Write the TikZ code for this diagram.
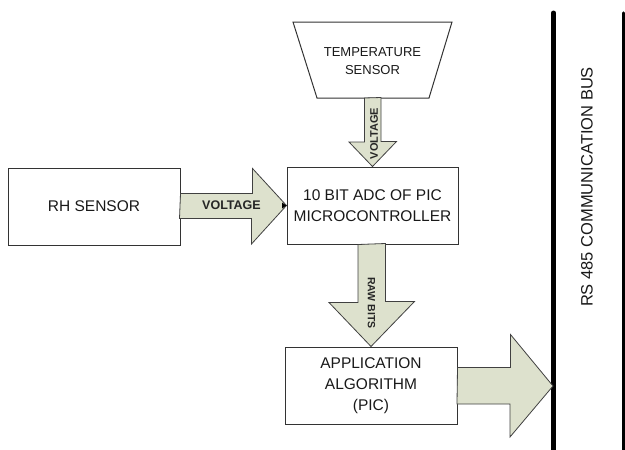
\documentclass[tikz,border=0pt]{standalone}
\usepackage{fontspec}
\setmainfont{Liberation Sans}
\begin{document}
\begin{tikzpicture}[x=1pt,y=-1pt,
  box/.style={draw=black!80, line width=1pt, fill=white, inner sep=0pt, align=center,
    font=\fontsize{15.5}{21}\selectfont, text=black!90},
  fatarrow/.style={draw=black!75, line width=0.8pt, fill=arrowfill, line join=miter},
  lbl/.style={font=\bfseries\fontsize{11}{13}\selectfont, text=black!85, inner sep=0pt}]
\definecolor{arrowfill}{RGB}{221,225,205}
\useasboundingbox (0,0) rectangle (625,450);

% boxes
\node[box, minimum width=172pt, minimum height=77pt] (rh) at (94,206.5) {RH SENSOR};
\node[box, minimum width=171pt, minimum height=77pt] (adc) at (372.5,205.5) {10 BIT ADC OF PIC\\MICROCONTROLLER};
\node[box, minimum width=172pt, minimum height=77pt] (app) at (371,385.5) {APPLICATION\\ALGORITHM\\(PIC)};

% temperature sensor (inverted trapezoid)
\draw[draw=black!80, line width=1pt, fill=white] (293,22) -- (452,22) -- (429,98) -- (317,98) -- cycle;
\node[inner sep=0pt, align=center, font=\fontsize{13}{18}\selectfont, text=black!90] (temp) at (372.5,61) {TEMPERATURE\\SENSOR};
\coordinate (tb) at (373,98);

% bus
\coordinate (bt) at (553,386);
\draw[line width=5pt, line cap=round] (553.5,13) -- (553.5,455);
\draw[line width=3.5pt, line cap=round] (623.5,13) -- (623.5,455);
\node[rotate=90, inner sep=0pt, font=\fontsize{16.5}{20}\selectfont, text=black!90] (bus) at (587,187) {RS 485 COMMUNICATION BUS};

% voltage arrow (RH -> ADC)
\draw[fatarrow] (rh.east) ++(0,-13) -- ++(72,0) -- ++(0,-25) -- (adc.west) -- ++(-35,38.5) -- ++(0,-25.5) -- ++(-72,0) -- cycle;
\fill[black] (adc.west) -- ++(-4.5,-3) -- ++(0,6) -- cycle;
\node[lbl, font=\bfseries\fontsize{12.5}{14}\selectfont] (v1) at (231.5,205) {VOLTAGE};

% voltage arrow (temp -> ADC)
\draw[fatarrow] (tb) ++(-8.5,0) -- ++(0,44) -- ++(-15.5,0) -- (adc.north) -- ++(24,-25) -- ++(-15.5,0) -- ++(0,-44) -- cycle;
\node[lbl, rotate=90] (v2) at (374,133.5) {VOLTAGE};

% raw bits arrow (ADC -> app)
\draw[fatarrow] (adc.south) ++(-14.5,0) -- ++(0,58) -- ++(-29,0) -- (app.north) -- ++(43.5,-45) -- ++(-29,0) -- ++(0,-58) -- cycle;
\node[lbl, rotate=-90, font=\bfseries\fontsize{10.5}{12}\selectfont] (rb) at (371.5,303) {RAW BITS};

% output arrow (app -> bus)
\draw[fatarrow] (app.east) ++(0,-18) -- ++(53,0) -- ++(0,-33) -- (bt) -- ++(-43,51) -- ++(0,-33) -- ++(-53,0) -- cycle;
\end{tikzpicture}
\end{document}
